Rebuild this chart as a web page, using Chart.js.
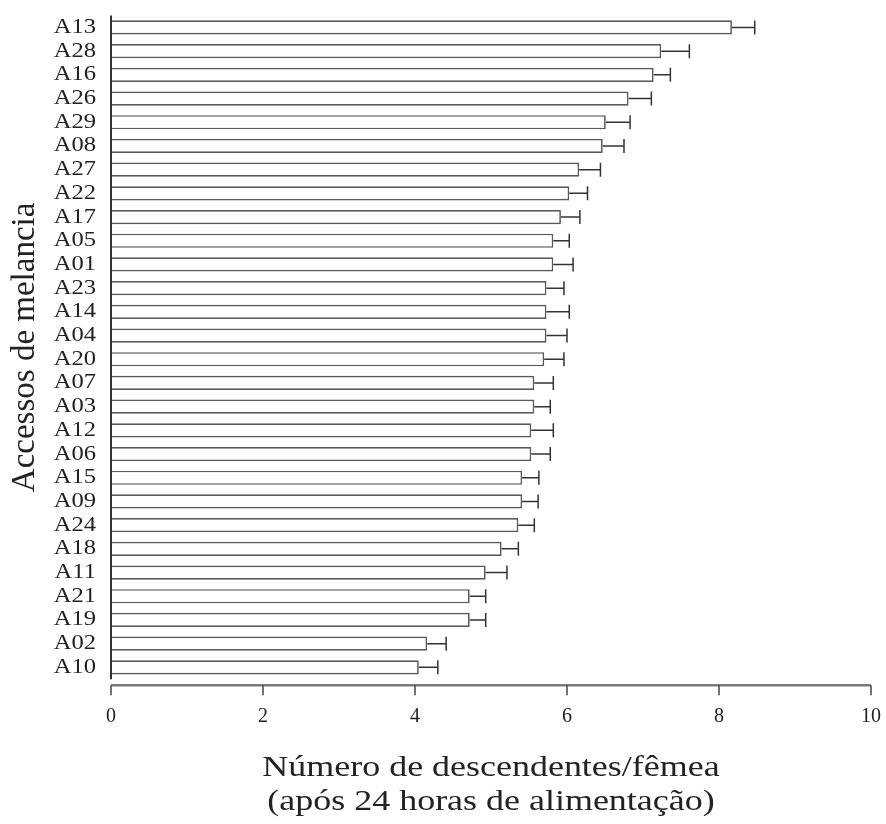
<!DOCTYPE html>
<html>
<head>
<meta charset="utf-8">
<script src="https://cdn.jsdelivr.net/npm/chart.js@4.4.1/dist/chart.umd.min.js"></script>
<style>
  html, body { margin: 0; padding: 0; background: #ffffff; }
  #wrap { width: 886px; height: 824px; position: relative; }
</style>
</head>
<body>
<div id="wrap"><canvas id="c"></canvas></div>
<script>
const categories = ['A13','A28','A16','A26','A29','A08','A27','A22','A17','A05','A01','A23','A14','A04','A20','A07','A03','A12','A06','A15','A09','A24','A18','A11','A21','A19','A02','A10'];
const means = [8.17,7.24,7.14,6.81,6.51,6.47,6.16,6.03,5.92,5.82,5.82,5.73,5.73,5.73,5.70,5.57,5.57,5.53,5.53,5.41,5.41,5.36,5.14,4.93,4.72,4.72,4.16,4.05];
const errors = [0.30,0.37,0.22,0.30,0.32,0.28,0.28,0.24,0.25,0.21,0.26,0.23,0.30,0.27,0.26,0.25,0.21,0.29,0.25,0.22,0.21,0.21,0.22,0.28,0.21,0.21,0.25,0.25];
const xTicks = [0,2,4,6,8,10];
const yTitle = 'Accessos de melancia';
const xTitle = ['Número de descendentes/fêmea', '(após 24 horas de alimentação)'];

const SERIF = "'Liberation Serif', 'Times New Roman', serif";
const INK = '#222222';

// The reference figure's horizontal text is stretched sideways; emulate it.
function stretchMethod(scale, name, getCx, factor) {
  const key = '_stretched_' + name;
  if (scale[key]) return;
  scale[key] = true;
  const orig = scale[name];
  scale[name] = function (...args) {
    const ctx = this.ctx;
    const cx = getCx(this);
    ctx.save();
    ctx.translate(cx, 0);
    ctx.scale(factor, 1);
    ctx.translate(-cx, 0);
    orig.apply(this, args);
    ctx.restore();
  };
}

const errorBars = {
  id: 'errorBars',
  afterDatasetsDraw(chart) {
    const {ctx, scales: {x, y}} = chart;
    ctx.save();
    ctx.strokeStyle = '#333333';
    ctx.lineWidth = 1.5;
    means.forEach((m, i) => {
      const x0 = x.getPixelForValue(m);
      const x1 = x.getPixelForValue(m + errors[i]);
      const yc = y.getPixelForValue(i);
      ctx.beginPath();
      ctx.moveTo(x0, yc);
      ctx.lineTo(x1, yc);
      ctx.moveTo(x1, yc - 7);
      ctx.lineTo(x1, yc + 7);
      ctx.stroke();
    });
    ctx.restore();
  }
};

const axesLines = {
  id: 'axesLines',
  afterDraw(chart) {
    const {ctx, chartArea: a, scales: {x}} = chart;
    ctx.save();
    ctx.strokeStyle = '#333333';
    ctx.lineWidth = 2;
    ctx.beginPath();
    ctx.moveTo(a.left, a.top);
    ctx.lineTo(a.left, a.bottom);
    ctx.stroke();
    const yb = a.bottom + 6;
    ctx.strokeStyle = '#7a7a7a';
    ctx.lineWidth = 2.5;
    ctx.beginPath();
    ctx.moveTo(a.left, yb);
    ctx.lineTo(a.right, yb);
    ctx.stroke();
    ctx.strokeStyle = '#444444';
    ctx.lineWidth = 1.5;
    xTicks.forEach(v => {
      const px = x.getPixelForValue(v);
      ctx.beginPath();
      ctx.moveTo(px, yb);
      ctx.lineTo(px, yb + 10);
      ctx.stroke();
    });
    ctx.restore();
  }
};

new Chart(document.getElementById('c'), {
  type: 'bar',
  data: {
    labels: categories,
    datasets: [{
      data: means,
      backgroundColor: '#ffffff',
      borderColor: '#5a5a5a',
      borderWidth: 1.7,
      barPercentage: 0.6,
      categoryPercentage: 1.0
    }]
  },
  options: {
    indexAxis: 'y',
    responsive: true,
    maintainAspectRatio: false,
    animation: false,
    events: [],
    layout: { padding: { top: 15.6, right: 15, left: 0, bottom: 0 } },
    plugins: { legend: { display: false }, tooltip: { enabled: false } },
    scales: {
      x: {
        type: 'linear',
        min: 0, max: 10,
        afterFit(s) {
          s.height = 824 - 679.2;
          s.paddingLeft = 0; s.paddingRight = 0;
          stretchMethod(s, 'drawTitle', sc => (sc.left + sc.right) / 2, 1.24);
        },
        afterBuildTicks(s) { s.ticks = xTicks.map(v => ({value: v})); },
        border: { display: false },
        grid: { display: false, drawTicks: false },
        ticks: { font: { family: SERIF, size: 20 }, color: INK, padding: 26, maxRotation: 0 },
        title: {
          display: true, text: xTitle, color: INK,
          font: { family: SERIF, size: 29, lineHeight: 1.17 },
          padding: { top: 0, bottom: 5 }
        }
      },
      y: {
        afterFit(s) {
          s.width = 111;
          s.paddingTop = 0; s.paddingBottom = 0;
          stretchMethod(s, 'drawLabels', sc => sc.right - 15, 1.17);
        },
        border: { display: false },
        grid: { display: false, drawTicks: false },
        ticks: { font: { family: SERIF, size: 21 }, color: INK, padding: 15, autoSkip: false },
        title: {
          display: true, text: yTitle, color: INK,
          font: { family: SERIF, size: 33, lineHeight: 1.2 },
          padding: { top: 6, bottom: 0 }
        }
      }
    }
  },
  plugins: [errorBars, axesLines]
});
</script>
</body>
</html>
